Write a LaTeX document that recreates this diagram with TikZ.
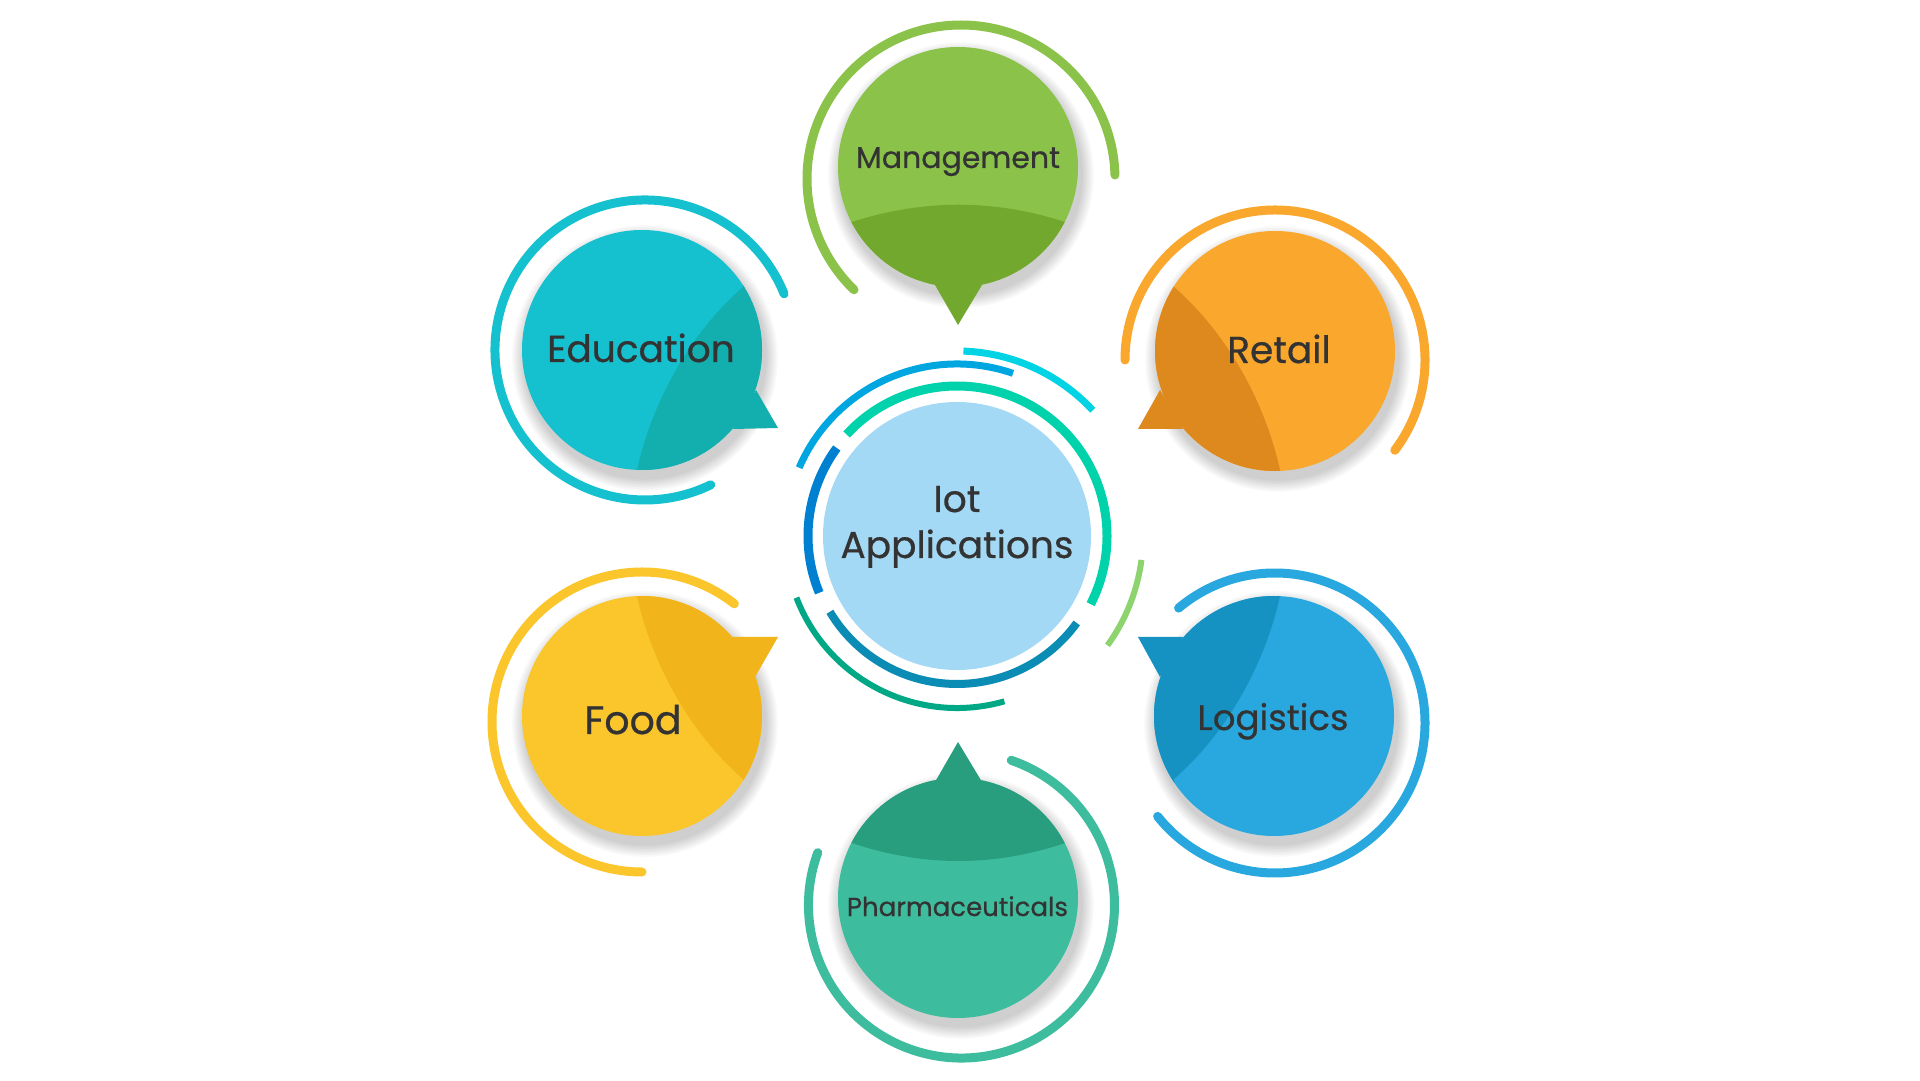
\documentclass[tikz,border=0pt]{standalone}
\usepackage{fontspec}
\setmainfont{Poppins}[FakeBold=0.6]
\definecolor{mgL}{HTML}{8BC34A}\definecolor{mgD}{HTML}{72A82E}
\definecolor{edL}{HTML}{16C1CF}\definecolor{edD}{HTML}{13AEAE}
\definecolor{rtL}{HTML}{F9A72D}\definecolor{rtD}{HTML}{DE891E}
\definecolor{fdL}{HTML}{FBC62C}\definecolor{fdD}{HTML}{F1B41B}
\definecolor{lgL}{HTML}{29A8DF}\definecolor{lgD}{HTML}{1592C2}
\definecolor{phL}{HTML}{3DBD9D}\definecolor{phD}{HTML}{289E7E}
\definecolor{ctr}{HTML}{A4D9F5}
\definecolor{txt}{HTML}{333333}
\definecolor{cGreen}{HTML}{00D3AB}
\definecolor{cDBlue}{HTML}{0080D0}
\definecolor{cBBlue}{HTML}{0A8CB5}
\definecolor{cOBlue}{HTML}{00A6E0}
\definecolor{cCyan}{HTML}{00D3E3}
\definecolor{cLGreen}{HTML}{8DD36E}
\definecolor{cBGreen}{HTML}{00A886}
\tikzset{
  ringline/.style={line width=9pt, line cap=round},
  coreline/.style={line width=#1, line cap=butt},
  lbl/.style={text=txt, anchor=base, inner sep=0pt},
  shadowdisk/.style={fill=black, opacity=0.022},
}
\begin{document}
\begin{tikzpicture}[x=1pt,y=1pt]
\fill[white] (0,0) rectangle (1920,1080);
\useasboundingbox (0,0) rectangle (1920,1080);

% ---------- shadows ----------
\foreach \cx/\cy in {958/913, 642/730, 1275/729, 642/364, 1274/364, 958/182}{
  \foreach \k in {1,...,8}{
    \fill[shadowdisk] (\cx+3,\cy-8) circle[radius=120+1.6*\k];
  }
}

% ---------- Management ----------
\fill[mgL] (958,913) circle[radius=120];
\begin{scope}
  \clip (958,913) circle[radius=120];
  \fill[mgD] (852,858) .. controls (923,881) and (994,881) .. (1065,858) -- (1100,858) -- (1100,700) -- (800,700) -- (800,858) -- cycle;
\end{scope}
\fill[mgD] (935,795) -- (958,755) -- (982,795) -- cycle;
\draw[ringline, mgL] (961,901) ++(1.5:154) arc[start angle=1.5, end angle=226, radius=154];
\node[lbl, font=\fontsize{30}{36}\selectfont] (management) at (958,912) {Management};

% ---------- Education ----------
\fill[edL] (642,730) circle[radius=120];
\begin{scope}
  \clip (642,730) circle[radius=120];
  \fill[edD] (743,793) .. controls (690,747) and (652,678) .. (637,610) -- (637,560) -- (820,560) -- (820,900) -- (743,900) -- cycle;
\end{scope}
\fill[edD] (756,690) -- (778,652) -- (733,651) -- cycle;
\draw[ringline, edL] (645,730) ++(22:150) arc[start angle=22, end angle=296, radius=150];
\node[lbl, font=\fontsize{37.5}{46}\selectfont] (education) at (641,718) {Education};

% ---------- Retail ----------
\fill[rtL] (1275,729) circle[radius=120];
\begin{scope}
  \clip (1275,729) circle[radius=120];
  \fill[rtD] (1174,793) .. controls (1227,747) and (1265,678) .. (1280,610) -- (1280,560) -- (1100,560) -- (1100,900) -- (1174,900) -- cycle;
\end{scope}
\fill[rtD] (1160,690) -- (1138,651) -- (1183,651) -- cycle;
\draw[ringline, rtL] (1275,720) ++(-37:150) arc[start angle=-37, end angle=180, radius=150];
\node[lbl, font=\fontsize{37.5}{46}\selectfont] (retail) at (1279,717) {Retail};

% ---------- Food ----------
\fill[fdL] (642,364) circle[radius=120];
\begin{scope}
  \clip (642,364) circle[radius=120];
  \fill[fdD] (743,301) .. controls (690,347) and (652,416) .. (637,484) -- (637,540) -- (820,540) -- (820,200) -- (743,200) -- cycle;
\end{scope}
\fill[fdD] (755,403) -- (778,443) -- (732,443) -- cycle;
\draw[ringline, fdL] (642,358) ++(52:150) arc[start angle=52, end angle=270, radius=150];
\node[lbl, font=\fontsize{39.5}{48}\selectfont] (food) at (633,346) {Food};

% ---------- Logistics ----------
\fill[lgL] (1274,364) circle[radius=120];
\begin{scope}
  \clip (1274,364) circle[radius=120];
  \fill[lgD] (1174,301) .. controls (1227,347) and (1265,416) .. (1280,484) -- (1280,540) -- (1100,540) -- (1100,200) -- (1174,200) -- cycle;
\end{scope}
\fill[lgD] (1160,403) -- (1138,443) -- (1183,443) -- cycle;
\draw[ringline, lgL] (1275,357) ++(130:150) arc[start angle=130, end angle=-141.5, radius=150];
\node[lbl, font=\fontsize{35.5}{44}\selectfont] (logistics) at (1273,350) {Logistics};

% ---------- Pharmaceuticals ----------
\fill[phL] (958,182) circle[radius=120];
\begin{scope}
  \clip (958,182) circle[radius=120];
  \fill[phD] (852,237) .. controls (923,213) and (994,213) .. (1065,237) -- (1100,237) -- (1100,400) -- (800,400) -- (800,237) -- cycle;
\end{scope}
\fill[phD] (935,298) -- (958,338) -- (982,298) -- cycle;
\draw[ringline, phL] (961.5,175) ++(160:153) arc[start angle=160, end angle=431, radius=153];
\node[lbl, font=\fontsize{26}{32}\selectfont] (pharma) at (957.5,164) {Pharmaceuticals};

% ---------- Centre ----------
\fill[ctr] (957,544) circle[radius=134];
\draw[coreline=9pt, cGreen] (957,544) ++(137.4:150) arc[start angle=137.4, end angle=-27, radius=150];
\draw[coreline=9pt, cDBlue] (957,544) ++(143.8:149) arc[start angle=143.8, end angle=202.4, radius=149];
\draw[coreline=8pt, cBBlue] (957,544) ++(210.8:148) arc[start angle=210.8, end angle=324, radius=148];
\draw[coreline=7pt, cOBlue] (957,544) ++(156.6:172) arc[start angle=156.6, end angle=71, radius=172];
\draw[coreline=7pt, cCyan] (957,544) ++(88:185) arc[start angle=88, end angle=42.8, radius=185];
\draw[coreline=6pt, cLGreen] (957,544) ++(-7.4:186) arc[start angle=-7.4, end angle=-36, radius=186];
\draw[coreline=6pt, cBGreen] (957,544) ++(201:172) arc[start angle=201, end angle=286, radius=172];
\node[lbl, font=\fontsize{37.5}{46}\selectfont] (iotA) at (957,568) {Iot};
\node[lbl, font=\fontsize{37.5}{46}\selectfont] (iotB) at (957,522) {Applications};
\end{tikzpicture}
\end{document}
